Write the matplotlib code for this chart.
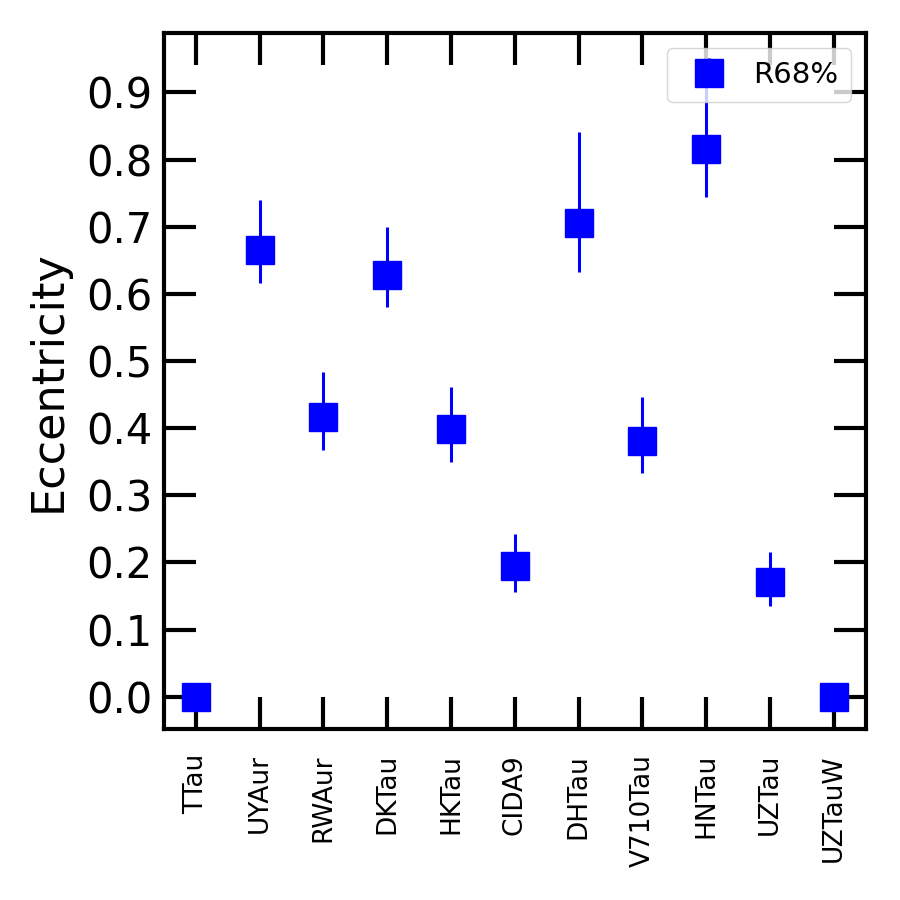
import matplotlib
matplotlib.use('Agg')
import matplotlib.pyplot as plt
import numpy as np

names = ['TTau', 'UYAur', 'RWAur', 'DKTau', 'HKTau', 'CIDA9', 'DHTau',
         'V710Tau', 'HNTau', 'UZTau', 'UZTauW']
ecc = [0.0, 0.665, 0.417, 0.628, 0.399, 0.195, 0.705, 0.381, 0.815, 0.171, 0.0]
err_up = [0.0, 0.075, 0.067, 0.072, 0.062, 0.048, 0.136, 0.065, 0.134, 0.045, 0.0]
err_lo = [0.0, 0.049, 0.049, 0.048, 0.049, 0.039, 0.073, 0.048, 0.071, 0.036, 0.0]

fig = plt.figure(figsize=(9, 9), dpi=100)
ax = fig.add_axes([0.182, 0.19, 0.780, 0.773])

x = np.arange(len(names))
ax.errorbar(x, ecc, yerr=[err_lo, err_up], fmt='s', color='blue', ms=20,
            elinewidth=2.2, capsize=0, label='R68%')

ax.set_xlim(-0.5, len(names) - 0.5)
ax.set_ylim(-0.048, 0.988)
ax.set_xticks(x)
ax.set_xticklabels(names, rotation=90, fontsize=19)
ax.set_yticks(np.arange(0, 0.95, 0.1))
ax.set_yticklabels(['%.1f' % v for v in np.arange(0, 0.95, 0.1)], fontsize=30)
ax.set_ylabel('Eccentricity', fontsize=32, labelpad=12)
ax.tick_params(direction='in', length=23, width=3, top=True, right=True, pad=8)
ax.tick_params(axis='x', pad=18)
for s in ax.spines.values():
    s.set_linewidth(3)

ax.legend(loc='upper right', fontsize=21, handletextpad=0.5, borderpad=0.45)
fig.savefig('out.png', dpi=100)
